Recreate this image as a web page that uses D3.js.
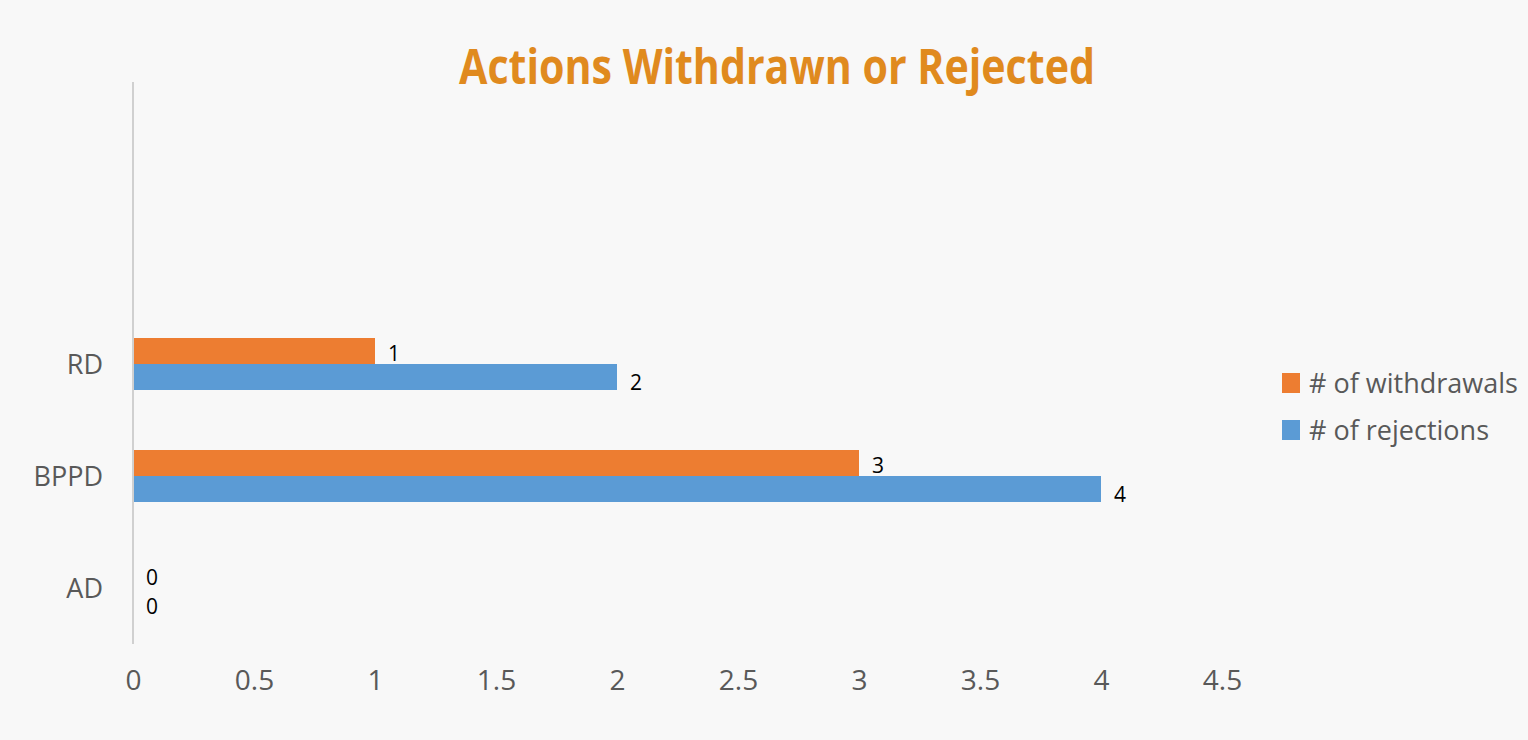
<!DOCTYPE html>
<html>
<head>
<meta charset="utf-8">
<script src="https://cdn.jsdelivr.net/npm/d3@7"></script>
<style>
  body { margin: 0; background: #f8f8f8; }
  svg { display: block; }
</style>
</head>
<body>
<svg id="viewer"></svg>
<script>
// data
var categories = ['RD', 'BPPD', 'AD'];
var seriesNames = ['# of withdrawals', '# of rejections'];
var withdrawals = [1, 3, 0];
var rejections = [2, 4, 0];
var xTicks = [0, 0.5, 1, 1.5, 2, 2.5, 3, 3.5, 4, 4.5];
var colors = ['#ED7D31', '#5B9BD5'];

var series = [withdrawals, rejections];
var labelShift = [2, 5];

var viewer = d3.select('#viewer')
  .attr('width', 1528)
  .attr('height', 740);

viewer.append('rect')
  .attr('width', 1528).attr('height', 740)
  .style('fill', '#f8f8f8');

var x = d3.scaleLinear().domain([0, 4]).range([133, 1101]);
var y = d3.scaleBand().domain(categories).range([308, 644]);
var sub = d3.scaleBand().domain([0, 1]).range([0, 52]);

// title
viewer.append('text')
  .attr('x', 777).attr('y', 84)
  .attr('text-anchor', 'middle')
  .attr('textLength', 636)
  .attr('lengthAdjust', 'spacingAndGlyphs')
  .style('font-family', '"Open Sans", sans-serif')
  .style('font-weight', 'bold')
  .style('font-size', '48px')
  .style('fill', '#E08A1E')
  .text('Actions Withdrawn or Rejected');

// axis line
viewer.append('line')
  .attr('x1', x(0)).attr('x2', x(0))
  .attr('y1', 82).attr('y2', 644)
  .style('stroke', '#d0d0d0')
  .style('stroke-width', 2);

// x tick labels
var xAxis = d3.axisBottom(x).tickValues(xTicks).tickSize(0).tickPadding(0)
  .tickFormat(function(d){ return String(d); });
var gx = viewer.append('g').attr('transform', 'translate(0,' + 670 + ')').call(xAxis);
gx.select('.domain').remove();
gx.selectAll('text')
  .attr('dy', '0.71em')
  .style('font-family', '"Open Sans", sans-serif')
  .style('font-size', '28px')
  .style('fill', '#595959');

// category labels
var yAxis = d3.axisLeft(y).tickSize(0).tickPadding(0);
var gy = viewer.append('g').attr('transform', 'translate(' + 103 + ',0)').call(yAxis);
gy.select('.domain').remove();
gy.selectAll('text')
  .attr('dy', '0.36em')
  .style('font-family', '"Open Sans", sans-serif')
  .style('font-size', '27px')
  .style('fill', '#595959');

// bars
series.forEach(function(values, s){
  var top = function(d, i){ return y(categories[i]) + (y.bandwidth() - 52) / 2 + sub(s); };
  viewer.selectAll('.bar' + s)
    .data(values)
    .enter().append('rect')
      .attr('class', 'bar' + s)
      .attr('x', x(0) + 1)
      .attr('y', top)
      .attr('width', function(d){ return Math.max(0, x(d) - x(0) - 1); })
      .attr('height', sub.bandwidth())
      .style('fill', colors[s]);
  viewer.selectAll('.label' + s)
    .data(values)
    .enter().append('text')
      .attr('class', 'label' + s)
      .attr('x', function(d){ return x(d) + 13; })
      .attr('y', function(d, i){ return top(d, i) + sub.bandwidth() / 2 + labelShift[s]; })
      .attr('dy', '0.36em')
      .style('font-family', '"Open Sans", sans-serif')
      .style('font-size', '21px')
      .style('fill', '#000')
      .text(function(d){ return d; });
});

// legend
var legend = viewer.selectAll('.legend')
  .data(seriesNames)
  .enter().append('g')
    .attr('class', 'legend')
    .attr('transform', function(d, i){ return 'translate(1282,' + (373 + i * 47) + ')'; });
legend.append('rect')
  .attr('width', 18).attr('height', 20)
  .style('fill', function(d, i){ return colors[i]; });
legend.append('text')
  .attr('x', 27).attr('y', 10)
  .attr('dy', '0.36em')
  .style('font-family', '"Open Sans", sans-serif')
  .style('font-size', '27px')
  .style('fill', '#595959')
  .text(function(d){ return d; });
</script>
</body>
</html>
